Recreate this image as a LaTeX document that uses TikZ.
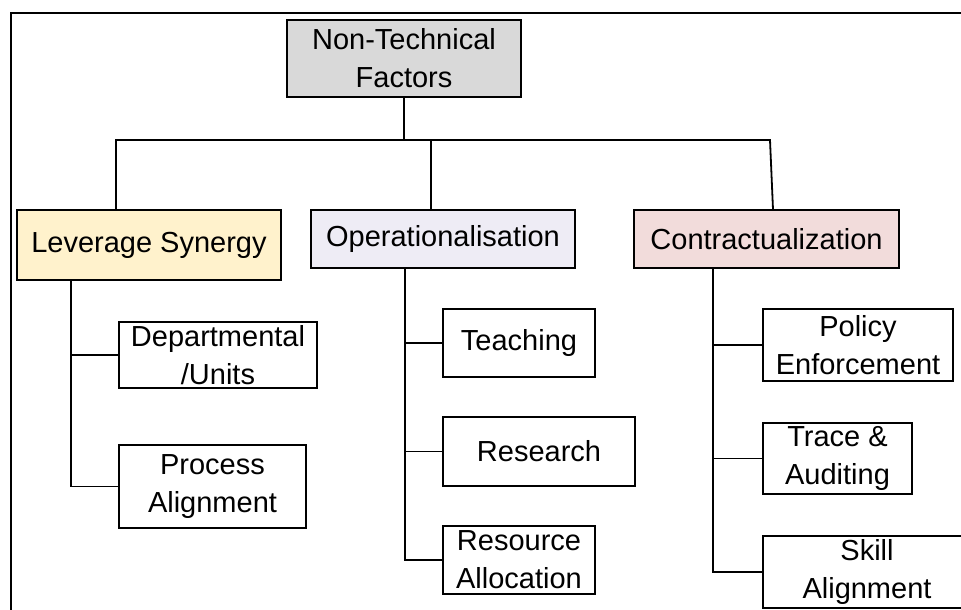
\documentclass[tikz,border=0pt]{standalone}
\usepackage{fontspec}
\setmainfont{Liberation Sans}
\usepackage{xcolor}
\usepackage{tikz}
\usetikzlibrary{positioning}
\definecolor{rootfill}{HTML}{D9D9D9}
\definecolor{levfill}{HTML}{FFF2CC}
\definecolor{opsfill}{HTML}{EEECF5}
\definecolor{confill}{HTML}{F2DCDB}
\tikzset{
	box/.style={draw, line width=1.2pt, inner sep=0pt, align=center, font=\fontsize{29}{38}\selectfont},
	link/.style={line width=1.8pt}
}
\begin{document}
\begin{tikzpicture}[x=1pt, y=-1pt]
	\clip (0,0) rectangle (961,610);
	\draw[line width=2pt] (11,13) rectangle (990,640);
	\node[box, fill=rootfill, line width=2pt, minimum width=234pt, minimum height=77pt] (root) at (404,58.5) {Non-Technical\\Factors};
	\node[box, fill=levfill, line width=1.6pt, minimum width=264pt, minimum height=70pt] (lev) at (149,245) {Leverage Synergy};
	\node[box, fill=opsfill, minimum width=264pt, minimum height=58pt] (ops) at (443,239) {Operationalisation};
	\node[box, fill=confill, minimum width=265pt, minimum height=58pt] (con) at (766.5,239) {Contractualization};
	\node[box, minimum width=198pt, minimum height=66pt] (dep) at (218,355) {Departmental\\/Units};
	\node[box, minimum width=187pt, minimum height=83pt] (proc) at (212.5,486.5) {Process\\Alignment};
	\node[box, minimum width=152pt, minimum height=68pt] (teach) at (519,343) {Teaching};
	\node[box, minimum width=192pt, minimum height=69pt] (res) at (539,451.5) {Research};
	\node[box, minimum width=152pt, minimum height=68pt] (resall) at (519,560) {Resource\\Allocation};
	\node[box, minimum width=190pt, minimum height=72pt] (pol) at (858,345) {Policy\\Enforcement};
	\node[box, minimum width=149pt, minimum height=71pt] (trace) at (837.5,458.5) {Trace \&\\Auditing};
	\node[box, minimum width=208pt, minimum height=72pt] (skill) at (867,572) {Skill\\Alignment};
	\coordinate (busl) at (116,140);
	\coordinate (busm) at (431,140);
	\coordinate (busr) at (770,140);
	\coordinate (levx) at (71,0);
	\coordinate (opsx) at (405,0);
	\coordinate (conx) at (713,0);
	\draw[link] (root.south) -- (root.south |- busl);
	\draw[link] (lev.north -| busl) -- (busl) -- (busr) -- ([xshift=3pt]con.north -| busr);
	\draw[link] (busm) -- (ops.north -| busm);
	\draw[link] (lev.south -| levx) |- (dep.west);
	\draw[link] (lev.south -| levx) |- (proc.west);
	\draw[link] (ops.south -| opsx) |- (teach.west);
	\draw[link] (ops.south -| opsx) |- (res.west);
	\draw[link] (ops.south -| opsx) |- (resall.west);
	\draw[link] (con.south -| conx) |- (pol.west);
	\draw[link] (con.south -| conx) |- (trace.west);
	\draw[link] (con.south -| conx) |- (skill.west);
\end{tikzpicture}
\end{document}
